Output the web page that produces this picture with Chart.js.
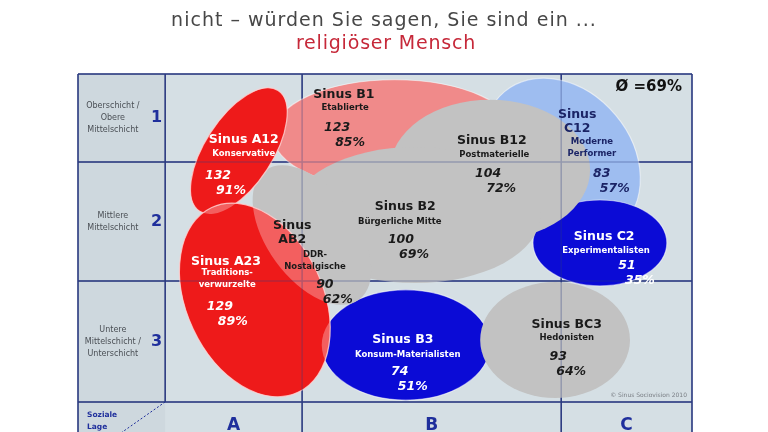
<!DOCTYPE html>
<html lang="de">
<head>
<meta charset="utf-8">
<title>Sinus-Milieus – religiöser Mensch</title>
<script src="https://cdn.jsdelivr.net/npm/chart.js@4.4.1/dist/chart.umd.min.js"></script>
<style>
  html, body { margin: 0; padding: 0; background: #fff; }
  canvas { display: block; }
</style>
</head>
<body>
<canvas id="chart" width="768" height="432"></canvas>
<script>
// Sinus-Milieus: "würden Sie sagen, Sie sind ein religiöser Mensch" (Index / Anteil in %)
// Reihenfolge = Zeichenreihenfolge (hintere Flächen zuerst)
const milieus = ['Sinus B1', 'Sinus C12', 'Sinus C2', 'Sinus B3', 'Sinus B12', 'Sinus B2', 'Sinus BC3', 'Sinus AB2', 'Sinus A12', 'Sinus A23'];
const milieuNames = ['Etablierte', 'Moderne Performer', 'Experimentalisten', 'Konsum-Materialisten', 'Postmaterielle',
  'Bürgerliche Mitte', 'Hedonisten', 'DDR-Nostalgische', 'Konservative', 'Traditionsverwurzelte'];
const indexValues = [123, 83, 51, 74, 104, 100, 93, 90, 132, 129];
const shareValues = [85, 57, 35, 51, 72, 69, 64, 62, 91, 89];
const averageShare = 69;

// Lage der Milieus in der Landkarte (0-100; x = Grundorientierung, y = soziale Lage von oben)
const mapX = [51.6, 78.8, 85.0, 53.4, 67.1, 54.9, 77.7, 38.1, 26.2, 28.8];
const mapY = [17.0, 24.0, 47.2, 75.7, 26.8, 39.4, 74.3, 45.0, 21.5, 63.1];
const spreadX = [19.9, 11.4, 10.9, 13.7, 16.3, 20.4, 12.2, 7.3, 5.5, 11.1];
const spreadY = [15.4, 24.9, 12.0, 15.4, 19.6, 19.0, 16.2, 22.3, 20.1, 28.5];
const tilt = [0, -40, 0, 0, 0, 0, 0, -36, 33, -25];

// Achsen: Spalten A/B/C, Zeilen 1/2/3
const columnLabels = ['A', 'B', 'C'];
const rowNumbers = ['1', '2', '3'];
const rowLabels = [['Oberschicht /', 'Obere', 'Mittelschicht'], ['Mittlere', 'Mittelschicht'], ['Untere', 'Mittelschicht /', 'Unterschicht']];
const colEdges = [0, 14.2, 36.5, 78.7, 100];
const rowEdges = [0, 24.6, 57.8, 91.6];

const titleLine = 'nicht – würden Sie sagen, Sie sind ein ...';
const titleAccent = 'religiöser Mensch';

// Farben je Milieu (grau ohne Rand, damit die grauen Flächen verschmelzen)
const fills = ['#f08a8a', '#9ebdf0', '#0b0bd6', '#0b0bd6', '#c2c2c2', '#c2c2c2', '#c2c2c2', '#c2c2c2', '#ee1a1a', '#ee1a1a'];
const edges = ['rgba(255,255,255,0.5)', 'rgba(255,255,255,0.5)', 'rgba(255,255,255,0.5)', 'rgba(255,255,255,0.5)',
  null, null, null, null, 'rgba(255,210,210,0.8)', 'rgba(255,210,210,0.8)'];
const textColors = ['#1a1a1a', '#1b2466', '#ffffff', '#ffffff', '#1a1a1a', '#1a1a1a', '#1a1a1a', '#1a1a1a', '#ffffff', '#ffffff'];
// halbtransparente Überschneidungen (Index-Paare)
const overlaps = [[8, 9], [9, 7], [9, 3]];

// Beschriftungspositionen (in Kartenkoordinaten)
const labelLayout = [
  { name: [43.3, 5.9], sub: [43.5, 9.5], value: [42.2, 15.1] },
  { name: [81.3, 11.5], sub: [83.7, 19.0], value: [85.3, 27.9], nameLines: ['Sinus', 'C12'], subLines: ['Moderne', 'Performer'] },
  { name: [85.7, 45.5], sub: [86.0, 49.4], value: [89.4, 53.6] },
  { name: [52.9, 74.3], sub: [53.7, 78.5], value: [52.4, 83.2] },
  { name: [67.4, 18.7], sub: [67.8, 22.6], value: [66.8, 27.9] },
  { name: [53.3, 37.2], sub: [52.4, 41.3], value: [52.6, 46.4] },
  { name: [79.6, 70.1], sub: [79.6, 73.7], value: [78.2, 79.1] },
  { name: [34.9, 42.5], sub: [38.6, 50.6], value: [40.2, 58.9], nameLines: ['Sinus', 'AB2'], subLines: ['DDR-', 'Nostalgische'] },
  { name: [27.0, 18.4], sub: [27.0, 22.3], value: [22.8, 28.5] },
  { name: [24.1, 52.5], sub: [24.3, 55.6], value: [23.1, 65.1], subLines: ['Traditions-', 'verwurzelte'] }
];

const FONT = "'DejaVu Sans', Verdana, sans-serif";
const NAVY = '#2b3a80';
const LABEL_BLUE = '#1f2f9c';

function drawText(ctx, str, px, py, font, color, align, spacing) {
  ctx.font = font;
  ctx.fillStyle = color;
  ctx.textAlign = align || 'center';
  ctx.textBaseline = 'middle';
  ctx.letterSpacing = spacing || '0px';
  ctx.fillText(str, px, py);
  ctx.letterSpacing = '0px';
}

function blobPath(chart, i) {
  const { ctx, scales: { x, y } } = chart;
  const pt = chart.getDatasetMeta(0).data[i];
  const rx = Math.abs(x.getPixelForValue(mapX[i] + spreadX[i]) - pt.x);
  const ry = Math.abs(y.getPixelForValue(mapY[i] + spreadY[i]) - pt.y);
  ctx.beginPath();
  ctx.ellipse(pt.x, pt.y, rx, ry, tilt[i] * Math.PI / 180, 0, Math.PI * 2);
}

function drawGrid(chart, alpha) {
  const { ctx, chartArea: a, scales: { x, y } } = chart;
  ctx.save();
  ctx.globalAlpha = alpha;
  ctx.strokeStyle = NAVY;
  ctx.lineWidth = 1.5;
  ctx.beginPath();
  rowEdges.forEach(v => {
    const py = y.getPixelForValue(v);
    ctx.moveTo(a.left, py);
    ctx.lineTo(a.right, py);
  });
  colEdges.forEach((v, k) => {
    const px = x.getPixelForValue(v);
    ctx.moveTo(px, a.top);
    // Spalte der Zeilenbeschriftung endet über der Ecke "Soziale Lage"
    ctx.lineTo(px, k === 1 ? y.getPixelForValue(rowEdges[3]) : a.bottom);
  });
  ctx.stroke();
  ctx.restore();
}

const sinusMapPlugin = {
  id: 'sinusMap',
  beforeDatasetsDraw(chart) {
    const { ctx, chartArea: a, scales: { x, y } } = chart;
    ctx.save();
    ctx.fillStyle = '#d5dfe4';
    ctx.fillRect(a.left, a.top, a.right - a.left, a.bottom - a.top);
    ctx.fillStyle = '#ced8de';
    ctx.fillRect(a.left, a.top, x.getPixelForValue(colEdges[1]) - a.left, a.bottom - a.top);
    ctx.restore();

    drawGrid(chart, 1);

    // Diagonale in der Ecke "Soziale Lage"
    ctx.save();
    ctx.strokeStyle = LABEL_BLUE;
    ctx.lineWidth = 1;
    ctx.setLineDash([2, 2]);
    ctx.beginPath();
    ctx.moveTo(x.getPixelForValue(colEdges[1]), y.getPixelForValue(rowEdges[3]));
    ctx.lineTo(x.getPixelForValue(colEdges[0]), y.getPixelForValue(108.7));
    ctx.stroke();
    ctx.restore();

    // Milieu-Flächen
    ctx.save();
    ctx.beginPath();
    ctx.rect(a.left, a.top, a.right - a.left, a.bottom - a.top);
    ctx.clip();
    milieus.forEach((m, i) => {
      blobPath(chart, i);
      ctx.fillStyle = fills[i];
      ctx.fill();
      if (edges[i]) {
        ctx.strokeStyle = edges[i];
        ctx.lineWidth = 1.2;
        ctx.stroke();
      }
    });
    overlaps.forEach(([i, j]) => {
      ctx.save();
      blobPath(chart, i);
      ctx.clip();
      blobPath(chart, j);
      ctx.fillStyle = 'rgba(255,255,255,0.3)';
      ctx.fill();
      ctx.restore();
    });
    ctx.restore();

    drawGrid(chart, 0.3);
  },
  afterDatasetsDraw(chart) {
    const { ctx, chartArea: a, scales: { x, y } } = chart;
    const X = v => x.getPixelForValue(v);
    const Y = v => y.getPixelForValue(v);
    ctx.save();

    // Titel
    drawText(ctx, titleLine, 384, 21, `19px ${FONT}`, '#474747', 'center', '1px');
    drawText(ctx, titleAccent, 386, 44, `19px ${FONT}`, '#c62839', 'center', '0.8px');

    // Zeilenbeschriftung
    rowLabels.forEach((lines, r) => {
      const mid = (Y(rowEdges[r]) + Y(rowEdges[r + 1])) / 2;
      const colL = X(colEdges[0]), colW = X(colEdges[1]) - colL;
      lines.forEach((t, k) => {
        drawText(ctx, t, colL + colW * 0.4, mid + (k - (lines.length - 1) / 2) * 12, `8px ${FONT}`, '#4a4f55');
      });
      drawText(ctx, rowNumbers[r], colL + colW * 0.9, mid, `bold 16px ${FONT}`, LABEL_BLUE);
    });

    // Spaltenbeschriftung
    columnLabels.forEach((c, k) => {
      drawText(ctx, c, (X(colEdges[k + 1]) + X(colEdges[k + 2])) / 2, Y(rowEdges[3]) + 24, `bold 17px ${FONT}`, LABEL_BLUE);
    });
    drawText(ctx, 'Soziale', X(colEdges[0]) + 9, Y(rowEdges[3]) + 13, `bold 7.5px ${FONT}`, LABEL_BLUE, 'left');
    drawText(ctx, 'Lage', X(colEdges[0]) + 9, Y(rowEdges[3]) + 25, `bold 7.5px ${FONT}`, LABEL_BLUE, 'left');

    // Milieu-Beschriftungen
    milieus.forEach((m, i) => {
      const L = labelLayout[i];
      const col = textColors[i];
      const nameLines = L.nameLines || [m];
      const subLines = L.subLines || [milieuNames[i]];
      nameLines.forEach((t, k) => drawText(ctx, t, X(L.name[0]), Y(L.name[1]) + k * 14, `bold 12.5px ${FONT}`, col));
      subLines.forEach((t, k) => drawText(ctx, t, X(L.sub[0]), Y(L.sub[1]) + k * 12, `bold 8.5px ${FONT}`, col));
      const vx = X(L.value[0]), vy = Y(L.value[1]);
      drawText(ctx, String(indexValues[i]), vx, vy, `italic bold 12.5px ${FONT}`, col);
      drawText(ctx, shareValues[i] + '%', vx + 13, vy + 15, `italic bold 12.5px ${FONT}`, col);
    });

    // Durchschnitt und Quelle
    drawText(ctx, `Ø =${averageShare}%`, a.right - 10, a.top + 13, `bold 15px ${FONT}`, '#111111', 'right');
    drawText(ctx, '© Sinus Sociovision 2010', a.right - 5, Y(rowEdges[3]) - 6, `6px ${FONT}`, '#7a7f85', 'right');

    ctx.restore();
  }
};

new Chart(document.getElementById('chart'), {
  type: 'bubble',
  data: {
    datasets: [{
      label: 'Milieus',
      data: milieus.map((m, i) => ({ x: mapX[i], y: mapY[i], r: 0 })),
      backgroundColor: 'transparent',
      borderWidth: 0,
      pointStyle: false
    }]
  },
  options: {
    responsive: false,
    animation: false,
    events: [],
    layout: { padding: { left: 78, right: 76, top: 74, bottom: 0 } },
    plugins: {
      legend: { display: false },
      tooltip: { enabled: false },
      title: { display: false }
    },
    scales: {
      x: { type: 'linear', min: 0, max: 100, display: false },
      y: { type: 'linear', min: 0, max: 100, reverse: true, display: false }
    }
  },
  plugins: [sinusMapPlugin]
});
</script>
</body>
</html>
